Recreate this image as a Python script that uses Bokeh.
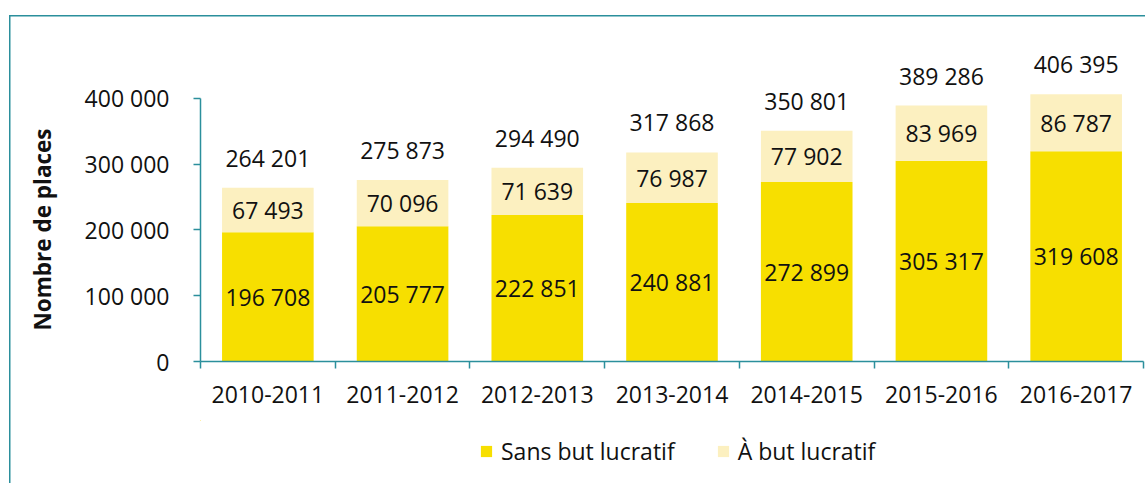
from bokeh.plotting import figure
from bokeh.layouts import column
from bokeh.models import (ColumnDataSource, FixedTicker, Legend, LegendItem, Range1d, Title)
from bokeh.core.properties import value
from bokeh.embed import file_html
from bokeh.resources import INLINE

years = ['2010-2011', '2011-2012', '2012-2013', '2013-2014', '2014-2015', '2015-2016', '2016-2017']
sans_but = [196708, 205777, 222851, 240881, 272899, 305317, 319608]
a_but = [67493, 70096, 71639, 76987, 77902, 83969, 86787]
totals = [264201, 275873, 294490, 317868, 350801, 389286, 406395]
y_ticks = [0, 100000, 200000, 300000, 400000]
series = ["Sans but lucratif", "À but lucratif"]
y_title = "Nombre de places"

def fmt(v):
    return f"{v:,}".replace(",", " ")

FONT = "Open Sans"
FS = "23px"
TEAL = "#2b8f9c"
YELLOW = "#f7df00"
LIGHT = "#fcf0c0"

xs = [i + 0.5 for i in range(len(years))]
src = ColumnDataSource(dict(
    x=xs, sans=sans_but, abut=a_but, total=totals,
    mid1=[s / 2 for s in sans_but],
    mid2=[s + a / 2 for s, a in zip(sans_but, a_but)],
    lab1=[fmt(v) for v in sans_but],
    lab2=[fmt(v) for v in a_but],
    labt=[fmt(v) for v in totals],
))

p = figure(width=1145, height=420, output_backend="svg", toolbar_location=None,
           x_range=Range1d(0, len(years)), y_range=Range1d(0, 518600),
           min_border_left=198, min_border_right=2, min_border_top=20,
           min_border_bottom=59)
p.outline_line_color = None
p.grid.visible = False
p.background_fill_color = None
p.border_fill_color = None

r = p.vbar_stack(['sans', 'abut'], x='x', width=0.68, source=src,
                 color=[YELLOW, LIGHT], line_color=None)

txt = dict(text_font=value(FONT), text_font_size=FS, text_color="#111111",
           text_align="center", text_baseline="middle")
p.text(x='x', y='mid1', text='lab1', source=src, **txt)
p.text(x='x', y='mid2', text='lab2', source=src, **txt)
p.text(x='x', y='total', text='labt', source=src, y_offset=-30, **txt)

# y axis
ya = p.yaxis[0]
ya.ticker = FixedTicker(ticks=y_ticks)
ya.major_label_overrides = {t: fmt(t) for t in y_ticks}
ya.bounds = (0, 400000)
ya.axis_line_color = TEAL
ya.axis_line_width = 1.5
ya.major_tick_line_color = TEAL
ya.major_tick_line_width = 1.5
ya.major_tick_out = 7
ya.major_tick_in = 0
ya.minor_tick_line_color = None
ya.major_label_standoff = 24
ya.major_label_text_font = FONT
ya.major_label_text_font_size = FS
ya.major_label_text_color = "#111111"

ytitle = Title(text=y_title, align="left", offset=31,
               text_font=FONT, text_font_style="bold", text_font_size="22.5px",
               text_color="#111111", standoff=48)
p.add_layout(ytitle, "left")

# x axis
xa = p.xaxis[0]
xa.ticker = FixedTicker(ticks=xs, minor_ticks=list(range(len(years) + 1)))
xa.major_label_overrides = {x: y for x, y in zip(xs, years)}
xa.axis_line_color = TEAL
xa.axis_line_width = 1.5
xa.major_tick_line_color = None
xa.major_tick_out = 7
xa.major_tick_in = 0
xa.minor_tick_line_color = TEAL
xa.minor_tick_line_width = 1.5
xa.minor_tick_out = 7
xa.minor_tick_in = 0
xa.major_label_standoff = 17
xa.major_label_text_font = FONT
xa.major_label_text_font_size = FS
xa.major_label_text_color = "#111111"

# legend strip (its bars lie far outside its view; only the legend shows)
pl = figure(width=1145, height=63, output_backend="svg", toolbar_location=None,
            x_range=Range1d(100, 101), y_range=Range1d(-2000000, -1900000),
            x_axis_location=None, y_axis_location=None,
            min_border=0)
pl.outline_line_color = None
pl.grid.visible = False
pl.background_fill_color = None
pl.border_fill_color = None
lr = pl.vbar_stack(['sans', 'abut'], x='x', width=0.68, source=src,
                   color=[YELLOW, LIGHT], line_color=None)
legend = Legend(items=[LegendItem(label=series[0], renderers=[lr[0]]),
                       LegendItem(label=series[1], renderers=[lr[1]])],
                orientation="horizontal", location=(279, 16),
                label_text_font=FONT, label_text_font_size=FS,
                label_text_color="#111111", glyph_width=14, glyph_height=14,
                spacing=41, label_standoff=8, border_line_color=None,
                background_fill_alpha=0, margin=0, padding=0)
pl.add_layout(legend)

layout = column(p, pl, spacing=0)
layout.styles = {"box-shadow": f"inset 9px 15px 0 0 white, inset 10.5px 16.5px 0 0 {TEAL}",
                 "background-color": "white"}

open("out.html", "w").write(file_html(layout, INLINE))
